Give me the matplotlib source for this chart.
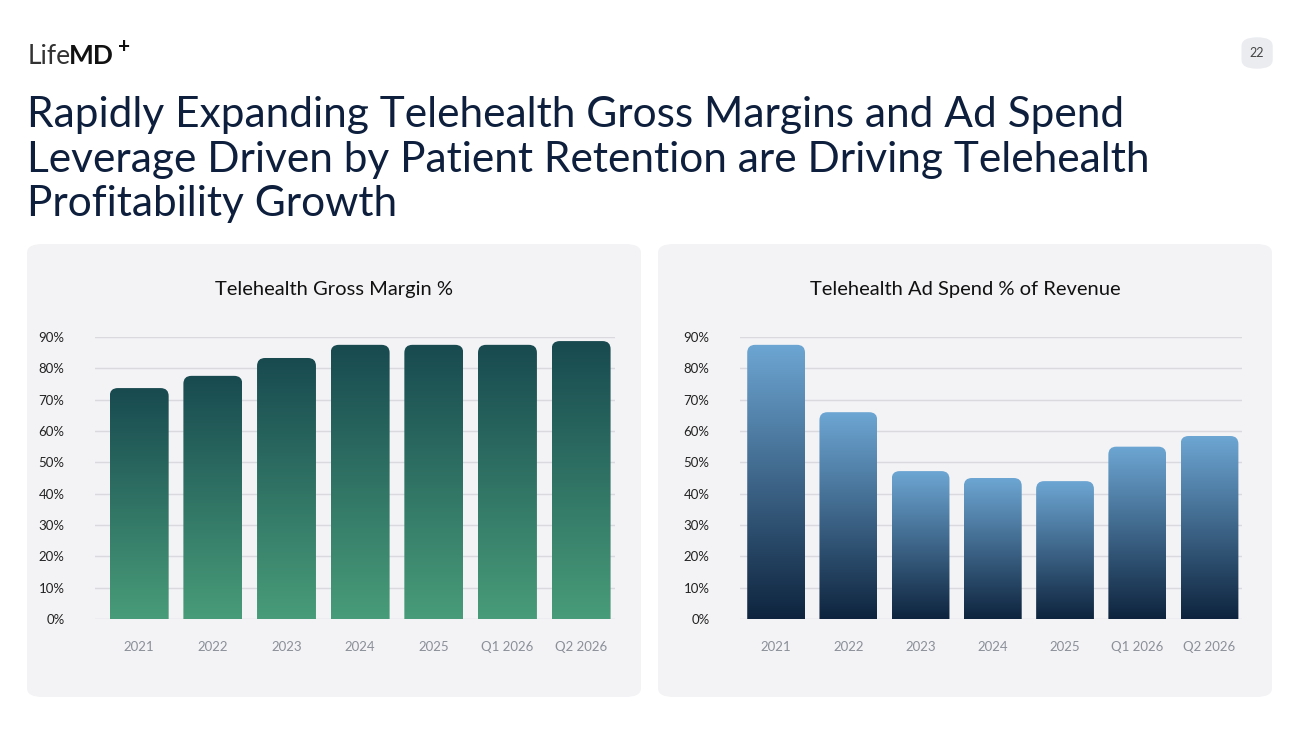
import matplotlib.pyplot as plt
import numpy as np
from matplotlib.patches import FancyBboxPatch
from matplotlib.colors import LinearSegmentedColormap

plt.rcParams['font.family'] = ['Lato', 'DejaVu Sans']

years = ['2021', '2022', '2023', '2024', '2025', 'Q1 2026', 'Q2 2026']
gross_margin = [73.7, 77.6, 83.3, 87.5, 87.5, 87.5, 88.7]
ad_spend = [87.5, 66.0, 47.2, 45.0, 44.0, 55.0, 58.4]

fig = plt.figure(figsize=(13, 7.31), dpi=100)
fig.patch.set_facecolor('white')

# logo + page number
fig.text(0.021, 0.912, 'Life', fontsize=19, color='#333333')
fig.text(0.053, 0.912, 'MD', fontsize=19, color='#111111', fontweight='bold')
fig.text(0.091, 0.927, '+', fontsize=15, color='#111111', fontweight='bold')
fig.patches.append(FancyBboxPatch((0.955, 0.906), 0.024, 0.043, boxstyle='round,pad=0,rounding_size=0.012',
                                  transform=fig.transFigure, facecolor='#ebecf0', edgecolor='none', zorder=-5))
fig.text(0.967, 0.927, '22', fontsize=9, color='#444444', ha='center', va='center')

fig.text(0.021, 0.868, 'Rapidly Expanding Telehealth Gross Margins and Ad Spend\n'
         'Leverage Driven by Patient Retention are Driving Telehealth\nProfitability Growth',
         fontsize=30.5, color='#0d1f3c', va='top', linespacing=1.2)

# panels
for x0 in (27, 658):
    fig.patches.append(FancyBboxPatch((x0 / 1300, 1 - 697 / 731), 614 / 1300, 453 / 731,
                                      boxstyle='round,pad=0,rounding_size=0.012', zorder=-5,
                                      transform=fig.transFigure, facecolor='#f3f3f6', edgecolor='none'))

def panel(rect, vals, title, ctop, cbot, title_x, xlim):
    ax = fig.add_axes(rect)
    ax.set_facecolor('none')
    cmap = LinearSegmentedColormap.from_list('g', [cbot, ctop])
    grad = np.linspace(0, 1, 256).reshape(-1, 1)
    for i, v in enumerate(vals):
        box = FancyBboxPatch((i - 0.4, -10), 0.8, v + 10, boxstyle='round,pad=0,rounding_size=0.11',
                             mutation_aspect=23, facecolor='none', edgecolor='none')
        ax.add_patch(box)
        im = ax.imshow(grad, extent=(i - 0.4, i + 0.4, 0, v), origin='lower', cmap=cmap,
                       aspect='auto', zorder=3)
        im.set_clip_path(box)
    ax.set_xlim(*xlim)
    ax.set_ylim(0, 90)
    ax.set_xticks(range(len(years)))
    ax.set_xticklabels(years)
    ax.set_yticks(range(0, 91, 10))
    ax.set_yticklabels([f'{t}%' for t in range(0, 91, 10)])
    ax.grid(axis='y', color='#d9d9de', linewidth=1)
    ax.set_axisbelow(True)
    for s in ax.spines.values():
        s.set_visible(False)
    ax.tick_params(axis='x', length=0, pad=16, labelsize=9.5, labelcolor='#8a8f98')
    ax.tick_params(axis='y', length=0, pad=22, labelsize=9.5, labelcolor='#222222')
    fig.text(title_x, 1 - 289 / 731, title, fontsize=14.5, color='#111111', ha='center', va='center')

panel([95 / 1300, 1 - 619 / 731, 520 / 1300, 282 / 731], gross_margin, 'Telehealth Gross Margin %',
      '#184a50', '#489c79', 334 / 1300, (-0.6, 6.46))
panel([740 / 1300, 1 - 619 / 731, 502 / 1300, 282 / 731], ad_spend, 'Telehealth Ad Spend % of Revenue',
      '#6da6d3', '#0e243e', 965 / 1300, (-0.5, 6.45))

fig.savefig('out.png', dpi=100)
